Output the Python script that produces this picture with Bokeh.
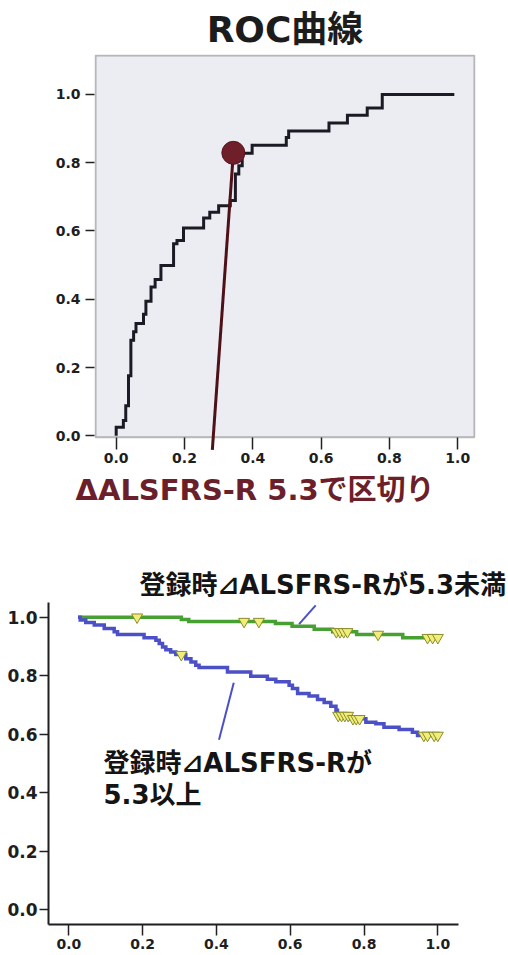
from bokeh.plotting import figure
from bokeh.models import Range1d, FixedTicker, PrintfTickFormatter, Label, Title, BoxAnnotation
from bokeh.layouts import column
from bokeh.embed import file_html
from bokeh.resources import INLINE

FONT = "DejaVu Sans, Noto Sans CJK JP"

# ---------------- ROC data ----------------
roc_fpr = [0.0, 0.0, 0.021, 0.028, 0.036, 0.043, 0.051, 0.058, 0.080, 0.087, 0.102,
           0.114, 0.131, 0.168, 0.178, 0.197, 0.256, 0.274, 0.300, 0.334, 0.349,
           0.359, 0.369, 0.398, 0.498, 0.505, 0.623, 0.677, 0.735, 0.779, 0.99]
roc_tpr = [0.0, 0.025, 0.045, 0.088, 0.176, 0.280, 0.305, 0.329, 0.356, 0.394, 0.436,
           0.458, 0.499, 0.563, 0.572, 0.609, 0.638, 0.655, 0.674, 0.689, 0.767,
           0.791, 0.828, 0.851, 0.874, 0.893, 0.916, 0.939, 0.960, 1.0, 1.0]
cut_point_fpr = [0.343]
cut_point_tpr = [0.829]
cut_line_fpr = [0.2815, 0.343]
cut_line_tpr = [-0.041, 0.829]
axis_ticks = [0.0, 0.2, 0.4, 0.6, 0.8, 1.0]

# ---------------- Kaplan-Meier data ----------------
low_t = [0.025, 0.305, 0.325, 0.56, 0.605, 0.665, 0.715, 0.78, 0.905, 1.005]
low_s = [1.0, 0.992, 0.985, 0.978, 0.969, 0.959, 0.950, 0.941, 0.930, 0.930]
low_cens_t = [0.185, 0.475, 0.515, 0.725, 0.735, 0.745, 0.755, 0.838, 0.972, 0.986, 1.0]
low_cens_s = [1.0, 0.985, 0.985, 0.950, 0.950, 0.950, 0.950, 0.941, 0.930, 0.930, 0.930]

high_t = [0.025, 0.031, 0.046, 0.069, 0.096, 0.123, 0.132, 0.204, 0.236, 0.245, 0.254,
          0.263, 0.276, 0.290, 0.317, 0.331, 0.344, 0.353, 0.430, 0.493, 0.538, 0.561,
          0.597, 0.606, 0.620, 0.651, 0.674, 0.692, 0.710, 0.724, 0.728, 0.764, 0.805,
          0.832, 0.854, 0.895, 0.931, 0.945, 1.005]
high_s = [1.0, 0.990, 0.982, 0.973, 0.961, 0.950, 0.941, 0.930, 0.921, 0.910, 0.898,
          0.889, 0.881, 0.872, 0.858, 0.847, 0.836, 0.828, 0.813, 0.798, 0.788, 0.779,
          0.767, 0.756, 0.739, 0.731, 0.719, 0.708, 0.696, 0.682, 0.664, 0.653, 0.641,
          0.636, 0.624, 0.616, 0.607, 0.596, 0.596]
high_cens_t = [0.305, 0.730, 0.739, 0.748, 0.757, 0.770, 0.779, 0.788, 0.962, 0.972, 0.99, 1.0]
high_cens_s = [0.872, 0.664, 0.664, 0.664, 0.664, 0.653, 0.653, 0.653, 0.596, 0.596, 0.596, 0.596]

low_leader_x = [0.624, 0.669]
low_leader_y = [0.976, 1.04]
high_leader_x = [0.447, 0.407]
high_leader_y = [0.776, 0.581]

title_text = "ROC曲線"
caption_text = "ΔALSFRS-R 5.3で区切り"
low_label = "登録時⊿ALSFRS-Rが5.3未満"
high_label_1 = "登録時⊿ALSFRS-Rが"
high_label_2 = "5.3以上"


def style_axis(ax, size="14px"):
    ax.ticker = FixedTicker(ticks=axis_ticks)
    ax.formatter = PrintfTickFormatter(format="%.1f")
    ax.major_tick_in = 0
    ax.minor_tick_line_color = None
    ax.major_tick_line_color = "#222222"
    ax.major_tick_line_width = 1.5
    ax.major_label_text_font = "DejaVu Sans"
    ax.major_label_text_font_style = "bold"
    ax.major_label_text_font_size = size
    ax.major_label_text_color = "#1e1e1e"


# ---------------- Figure 1: ROC ----------------
X1 = Range1d(-0.0635, 1.052)
Y1 = Range1d(-0.0957, 1.117)
p1 = figure(width=508, height=530, output_backend="svg", toolbar_location=None,
            x_range=X1, y_range=Y1,
            min_border_left=94, min_border_right=33, min_border_top=54, min_border_bottom=62,
            title=title_text)
p1.frame_align = False
p1.title.align = "center"
p1.title.text_font = FONT
p1.title.text_font_size = "36px"
p1.title.text_font_style = "bold"
p1.title.text_color = "#1c1c1c"
p1.background_fill_color = "white"
p1.border_fill_color = "white"
p1.outline_line_color = None
p1.grid.visible = False

# plot box (frame decoration)
p1.add_layout(BoxAnnotation(left=X1.start + 0.003, right=X1.end - 0.003,
                            top=Y1.end - 0.003, bottom=-0.004,
                            fill_color="#ECECF3", fill_alpha=1.0,
                            line_color="#262626", line_width=2, level="underlay"))

for ax in (p1.xaxis[0], p1.yaxis[0]):
    style_axis(ax)
    ax.axis_line_color = None
p1.yaxis.major_tick_out = 9
p1.yaxis.major_label_standoff = 5
p1.xaxis.fixed_location = -0.004
p1.xaxis.major_tick_out = 12
p1.xaxis.major_label_standoff = 4

p1.step(roc_fpr, roc_tpr, mode="after", line_color="#1b1b26", line_width=3, line_join="miter")
p1.line(cut_line_fpr, cut_line_tpr, line_color="#4d1218", line_width=3)
p1.scatter(cut_point_fpr, cut_point_tpr, size=23, fill_color="#6E1F2A",
           line_color="#5a1520", line_width=1)

cap = Title(text=caption_text, align="left", offset=-19, standoff=4,
            text_font=FONT, text_font_style="bold", text_font_size="29px",
            text_color="#6B1F2B")
p1.add_layout(cap, "below")

# ---------------- Figure 2: Kaplan-Meier ----------------
p2 = figure(width=508, height=425, output_backend="svg", toolbar_location=None,
            x_range=Range1d(-0.055, 1.056), y_range=Range1d(-0.05, 1.05),
            min_border_left=48, min_border_right=50, min_border_top=72, min_border_bottom=31)
p2.frame_align = False
p2.background_fill_color = "white"
p2.border_fill_color = "white"
p2.outline_line_color = None
p2.grid.visible = False
style_axis(p2.xaxis[0], "14px")
style_axis(p2.yaxis[0], "17px")
for ax in (p2.xaxis[0], p2.yaxis[0]):
    ax.axis_line_color = "#1e1e1e"
    ax.axis_line_width = 2
p2.yaxis.major_tick_out = 9
p2.yaxis.major_label_standoff = 2
p2.xaxis.major_tick_out = 11
p2.xaxis.major_label_standoff = 3

p2.step(low_t, low_s, mode="after", line_color="#46A032", line_width=3.5, line_join="miter")
p2.step(high_t, high_s, mode="after", line_color="#4C50C6", line_width=3.5, line_join="miter")
p2.scatter(low_cens_t, low_cens_s, marker="inverted_triangle", size=11,
           fill_color="#EEEE78", line_color="#8C8C2E", line_width=1)
p2.scatter(high_cens_t, high_cens_s, marker="inverted_triangle", size=11,
           fill_color="#EEEE78", line_color="#8C8C2E", line_width=1)
p2.line(low_leader_x, low_leader_y, line_color="#4C50C6", line_width=2)
p2.line(high_leader_x, high_leader_y, line_color="#4C50C6", line_width=2)

top_lab = Title(text=low_label, align="left", offset=91, standoff=6,
                text_font=FONT, text_font_style="bold", text_font_size="26px",
                text_color="#141414")
p2.add_layout(top_lab, "above")

p2.add_layout(Label(x=0.094, y=0.503, text=high_label_1, text_align="left",
                    text_baseline="middle", text_font=FONT, text_font_style="bold",
                    text_font_size="26px", text_color="#141414"))
p2.add_layout(Label(x=0.094, y=0.391, text=high_label_2, text_align="left",
                    text_baseline="middle", text_font=FONT, text_font_style="bold",
                    text_font_size="26px", text_color="#141414"))

layout = column(p1, p2, spacing=0)
open("out.html", "w").write(file_html(layout, INLINE))
